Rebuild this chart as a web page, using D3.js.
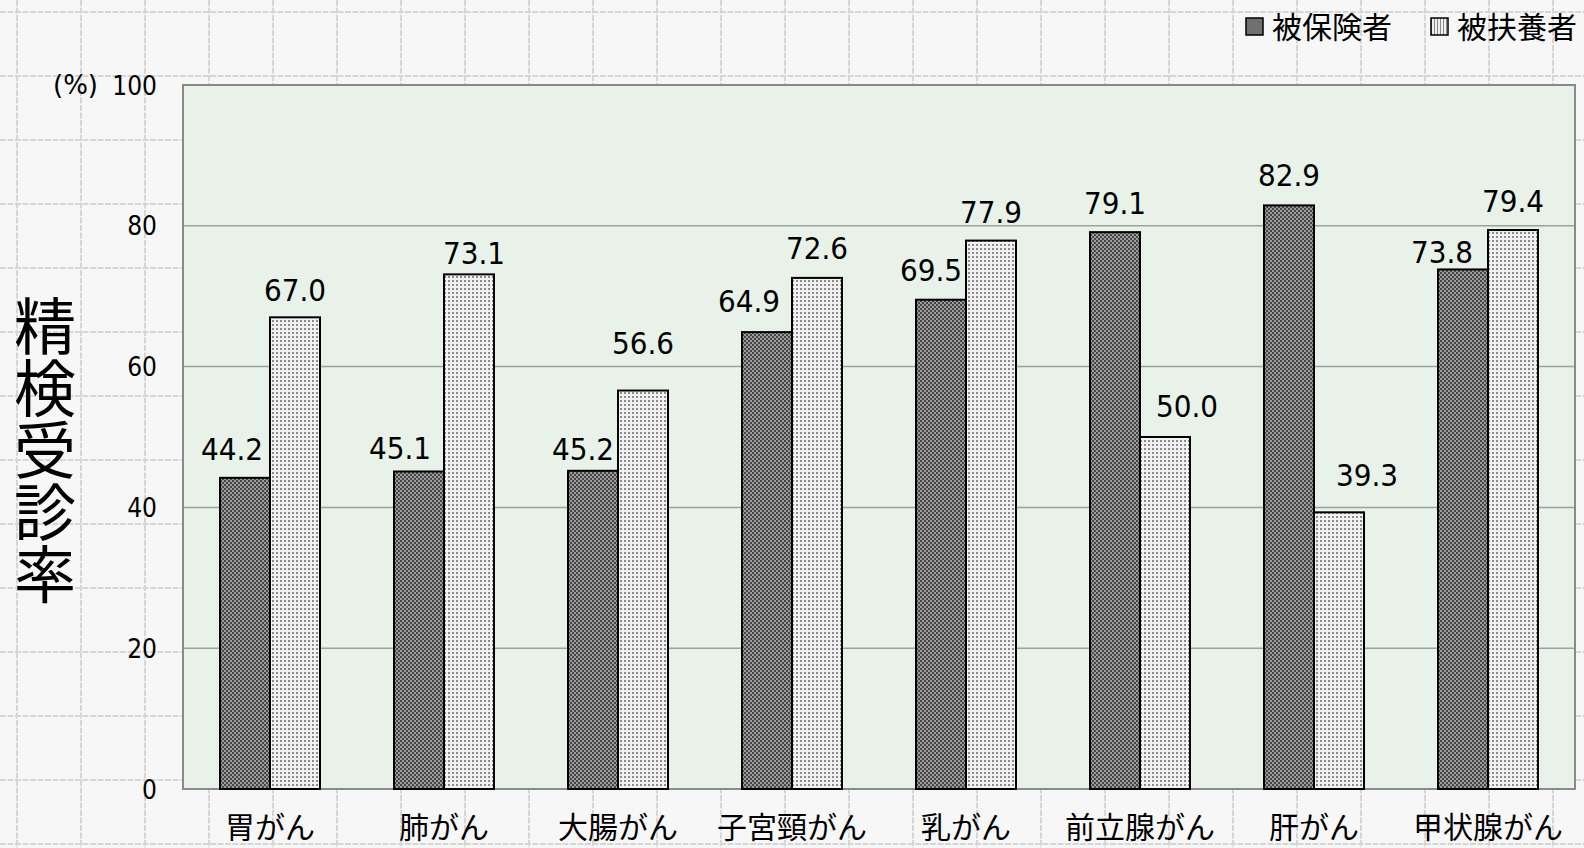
<!DOCTYPE HTML>
<html>
<head>
  <meta charset="utf-8">
  <style>
  html, body {
    margin: 0;
    padding: 0;
    background: #f7f7f7;
    overflow: hidden;
  }
  .num {
    font-family: "DejaVu Sans Condensed", "DejaVu Sans", sans-serif;
    font-stretch: condensed;
  }
  .jp {
    font-family: "Noto Sans CJK JP", "Noto Sans", sans-serif;
  }
  .axis path, .axis line {
    display: none;
  }
  </style>
  <script src="https://cdn.jsdelivr.net/npm/d3@7"></script>
</head>
<body>
  <script type="text/javascript">
  // data
  var categories = ['胃がん', '肺がん', '大腸がん', '子宮頸がん', '乳がん', '前立腺がん', '肝がん', '甲状腺がん'];
  var seriesNames = ['被保険者', '被扶養者'];
  var insured = [44.2, 45.1, 45.2, 64.9, 69.5, 79.1, 82.9, 73.8];
  var dependent = [67.0, 73.1, 56.6, 72.6, 77.9, 50.0, 39.3, 79.4];
  var yTicks = [0, 20, 40, 60, 80, 100];

  // hand-placed label offsets (px) as in the original
  var insuredLabelDx = [-13, -19, -10, -18, -10, 0, 0, -21];
  var insuredLabelGap = [18, 12, 11, 20, 19, 18, 19, 6];
  var dependentLabelDx = [0, 5, 0, 0, 0, 22, 28, 0];
  var dependentLabelGap = [16, 10, 37, 19, 18, 20, 26, 18];

  function draw() {
    'use strict';
    var W = 1584, H = 848,
        plot = {left: 183, right: 1575, top: 85, bottom: 789};

    var svg = d3.select('body')
                .append('svg')
                .attr('width', W)
                .attr('height', H);

    var defs = svg.append('defs');

    // dark checker for 被保険者
    var p1 = defs.append('pattern')
      .attr('id', 'darkFill')
      .attr('patternUnits', 'userSpaceOnUse')
      .attr('width', 4).attr('height', 4);
    p1.append('rect').attr('width', 4).attr('height', 4).attr('fill', '#9c9c9c');
    p1.append('rect').attr('width', 2).attr('height', 2).attr('fill', '#474747');
    p1.append('rect').attr('x', 2).attr('y', 2).attr('width', 2).attr('height', 2).attr('fill', '#474747');

    // light dots for 被扶養者
    var p2 = defs.append('pattern')
      .attr('id', 'lightFill')
      .attr('patternUnits', 'userSpaceOnUse')
      .attr('width', 4).attr('height', 4);
    p2.append('rect').attr('width', 4).attr('height', 4).attr('fill', '#f2f2f2');
    p2.append('rect').attr('width', 2).attr('height', 2).attr('fill', '#8c8c8c');

    // stripes for legend swatch
    var p3 = defs.append('pattern')
      .attr('id', 'stripeFill')
      .attr('patternUnits', 'userSpaceOnUse')
      .attr('width', 3).attr('height', 3);
    p3.append('rect').attr('width', 3).attr('height', 3).attr('fill', '#f0f0f0');
    p3.append('rect').attr('width', 1).attr('height', 3).attr('fill', '#8a8a8a');

    //sheet grid behind the chart
    var sheet = svg.append('g').attr('class', 'sheet');
    sheet.selectAll('line.v')
      .data(d3.range(17, W, 64))
      .enter().append('line')
      .attr('x1', function(d) { return d; }).attr('x2', function(d) { return d; })
      .attr('y1', 0).attr('y2', H);
    sheet.selectAll('line.h')
      .data(d3.range(12, H, 64))
      .enter().append('line')
      .attr('y1', function(d) { return d; }).attr('y2', function(d) { return d; })
      .attr('x1', 0).attr('x2', W);
    sheet.selectAll('line')
      .attr('stroke', '#d6d6d6')
      .attr('stroke-width', 2)
      .attr('stroke-dasharray', '6,1.5');

    //set the scales
    var x_scale = d3.scaleBand()
                    .domain(categories)
                    .range([plot.left, plot.right]);
    var x_inner = d3.scaleBand()
                    .domain(seriesNames)
                    .range([x_scale.bandwidth() / 2 - 50, x_scale.bandwidth() / 2 + 50]);
    var y_scale = d3.scaleLinear()
                    .domain([0, 100])
                    .range([plot.bottom, plot.top]);

    // plot area
    svg.append('rect')
      .attr('x', plot.left).attr('y', plot.top)
      .attr('width', plot.right - plot.left)
      .attr('height', plot.bottom - plot.top)
      .attr('fill', '#e8f2e9');

    // gridlines
    svg.append('g')
      .selectAll('line')
      .data(yTicks.slice(1, -1))
      .enter().append('line')
      .attr('x1', plot.left).attr('x2', plot.right)
      .attr('y1', function(d) { return y_scale(d); })
      .attr('y2', function(d) { return y_scale(d); })
      .attr('stroke', '#9aa39b')
      .attr('stroke-width', 1.5);

    svg.append('rect')
      .attr('x', plot.left).attr('y', plot.top)
      .attr('width', plot.right - plot.left)
      .attr('height', plot.bottom - plot.top)
      .attr('fill', 'none')
      .attr('stroke', '#8a8a8a')
      .attr('stroke-width', 2);

    // y axis
    var y_axis = d3.axisLeft(y_scale).tickValues(yTicks).tickSize(0).tickPadding(26);
    var gy = svg.append('g')
      .attr('class', 'axis num')
      .attr('transform', 'translate(' + plot.left + ',0)')
      .call(y_axis);
    gy.selectAll('text')
      .attr('font-size', 26)
      .attr('fill', '#000')
      .attr('dy', '0.35em');

    svg.append('text')
      .attr('x', 53).attr('y', y_scale(100))
      .attr('dy', '0.35em')
      .attr('font-family', '"DejaVu Sans", sans-serif')
      .attr('font-size', 26)
      .text('(%)');

    // x axis labels
    var x_axis = d3.axisBottom(x_scale).tickSize(0).tickPadding(0);
    var gx = svg.append('g')
      .attr('class', 'axis jp')
      .attr('transform', 'translate(0,' + plot.bottom + ')')
      .call(x_axis);
    gx.selectAll('text')
      .attr('font-size', 30)
      .attr('fill', '#000')
      .attr('y', 49)
      .attr('dy', 0);

    // y title, vertical
    svg.append('text')
      .attr('class', 'jp')
      .attr('x', 45).attr('y', 450)
      .attr('text-anchor', 'middle')
      .attr('font-size', 62)
      .style('writing-mode', 'vertical-rl')
      .text('精検受診率');

    // bars
    var series = [
      {name: seriesNames[0], values: insured, fill: 'url(#darkFill)', dx: insuredLabelDx, gap: insuredLabelGap},
      {name: seriesNames[1], values: dependent, fill: 'url(#lightFill)', dx: dependentLabelDx, gap: dependentLabelGap}
    ];

    series.forEach(function(s) {
      var g = svg.append('g');
      g.selectAll('rect')
        .data(s.values)
        .enter()
        .append('rect')
        .attr('x', function(d, i) { return x_scale(categories[i]) + x_inner(s.name); })
        .attr('y', function(d) { return y_scale(d); })
        .attr('width', x_inner.bandwidth())
        .attr('height', function(d) { return y_scale(0) - y_scale(d); })
        .attr('fill', s.fill)
        .attr('stroke', '#000')
        .attr('stroke-width', 2);

      g.selectAll('text')
        .data(s.values)
        .enter()
        .append('text')
        .attr('class', 'num')
        .attr('x', function(d, i) {
          return x_scale(categories[i]) + x_inner(s.name) + x_inner.bandwidth() / 2 + s.dx[i];
        })
        .attr('y', function(d, i) { return y_scale(d) - s.gap[i]; })
        .attr('text-anchor', 'middle')
        .attr('font-size', 31)
        .text(function(d) { return d.toFixed(1); });
    });

    // legend
    var legendX = [1246, 1431];
    var legendFill = ['#707070', 'url(#stripeFill)'];
    var lg = svg.append('g');
    seriesNames.forEach(function(name, i) {
      lg.append('rect')
        .attr('x', legendX[i]).attr('y', 18)
        .attr('width', 17).attr('height', 17)
        .attr('fill', legendFill[i])
        .attr('stroke', '#000')
        .attr('stroke-width', 1.5);
      lg.append('text')
        .attr('class', 'jp')
        .attr('x', legendX[i] + 26).attr('y', 27)
        .attr('dy', '0.35em')
        .attr('font-size', 30)
        .text(name);
    });
  }
  draw();
  </script>
</body>
</html>
